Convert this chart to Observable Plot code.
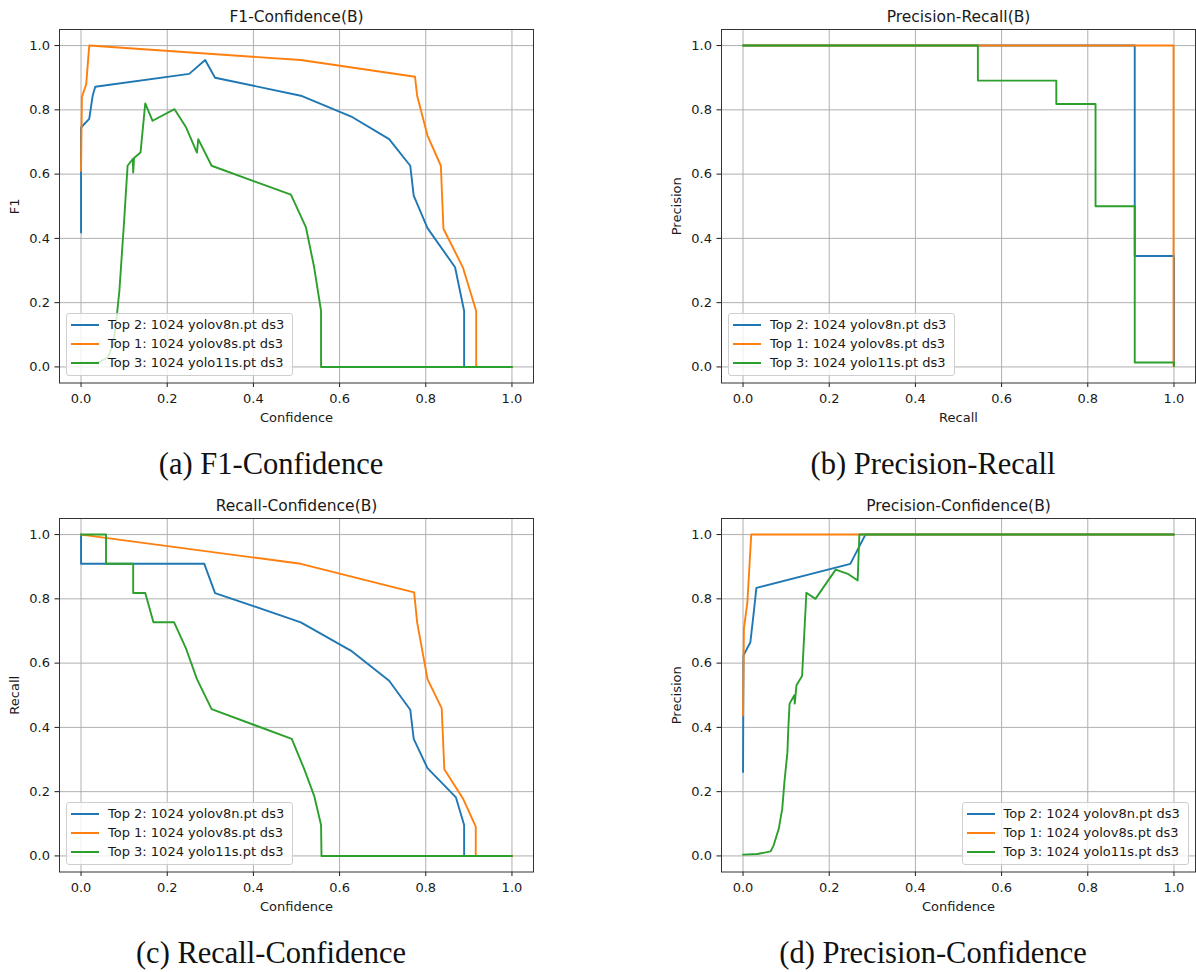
<!DOCTYPE html>
<html><head><meta charset="utf-8">
<script src="https://cdn.jsdelivr.net/npm/d3@7"></script>
<script src="https://cdn.jsdelivr.net/npm/@observablehq/plot@0.6"></script>
<style>
body{margin:0;background:#fff;}
#fig{position:relative;width:1196px;height:972px;overflow:hidden;background:#fff;}
.panel{position:absolute;}
.legend{position:absolute;box-sizing:border-box;border:1px solid #cfcfcf;border-radius:3px;background:rgba(255,255,255,0.8);font:13px 'DejaVu Sans';color:#1a1a1a;}
.legend .row{position:absolute;left:0;height:19px;}
.legend .swatch{position:absolute;left:4px;top:8.5px;width:28px;height:2px;}
.legend .lab{position:absolute;left:41px;top:0;line-height:19px;white-space:nowrap;}
</style>
</head><body><div id="fig"></div>
<script>
// ---- shared labels ----
const xTicks = [0, 0.2, 0.4, 0.6, 0.8, 1.0];
const yTicks = [0, 0.2, 0.4, 0.6, 0.8, 1.0];
const seriesNames = ["Top 2: 1024 yolov8n.pt ds3", "Top 1: 1024 yolov8s.pt ds3", "Top 3: 1024 yolo11s.pt ds3"];
const seriesColors = ["#1f77b4", "#ff7f0e", "#2ca02c"];
const panelTitles = ["F1-Confidence(B)", "Precision-Recall(B)", "Recall-Confidence(B)", "Precision-Confidence(B)"];
const xLabels = ["Confidence", "Recall", "Confidence", "Confidence"];
const yLabels = ["F1", "Precision", "Recall", "Precision"];
const captions = ["(a) F1-Confidence", "(b) Precision-Recall", "(c) Recall-Confidence", "(d) Precision-Confidence"];

// ---- (a) F1 vs confidence: [confidence, F1] ----
const f1V8n = [[0,0.418],[0,0.745],[0.019,0.772],[0.027,0.844],[0.033,0.872],[0.251,0.912],[0.288,0.955],[0.311,0.9],[0.51,0.844],[0.63,0.777],[0.715,0.709],[0.764,0.626],[0.772,0.533],[0.804,0.432],[0.868,0.31],[0.889,0.174],[0.889,0],[1,0]];
const f1V8s = [[0,0.61],[0.002,0.84],[0.012,0.88],[0.019,1.0],[0.51,0.955],[0.775,0.903],[0.78,0.844],[0.804,0.72],[0.835,0.626],[0.841,0.43],[0.886,0.31],[0.917,0.174],[0.917,0],[1,0]];
const f1Y11s = [[0,0.013],[0.039,0.013],[0.062,0.029],[0.074,0.07],[0.081,0.133],[0.089,0.237],[0.1,0.455],[0.108,0.626],[0.12,0.647],[0.121,0.605],[0.123,0.65],[0.138,0.667],[0.149,0.82],[0.166,0.766],[0.217,0.802],[0.244,0.745],[0.269,0.667],[0.272,0.709],[0.303,0.626],[0.487,0.536],[0.522,0.434],[0.541,0.31],[0.557,0.174],[0.557,0],[1,0]];

// ---- (b) precision vs recall: [recall, precision] ----
const prV8n = [[0,1],[0.909,1],[0.909,0.345],[1.0,0.345],[1.0,0.004]];
const prV8s = [[0,1],[0.999,1],[0.999,0.004]];
const prY11s = [[0,1],[0.545,1],[0.545,0.891],[0.727,0.891],[0.727,0.818],[0.818,0.818],[0.818,0.5],[0.909,0.5],[0.909,0.014],[1.0,0.014],[1.0,0.002]];

// ---- (c) recall vs confidence: [confidence, recall] ----
const rcV8n = [[0,1],[0,0.909],[0.286,0.909],[0.311,0.818],[0.51,0.727],[0.626,0.639],[0.715,0.545],[0.764,0.455],[0.772,0.364],[0.804,0.273],[0.87,0.182],[0.889,0.096],[0.889,0],[1,0]];
const rcV8s = [[0,1],[0.51,0.909],[0.773,0.82],[0.78,0.727],[0.804,0.55],[0.837,0.459],[0.843,0.27],[0.887,0.177],[0.916,0.091],[0.916,0],[1,0]];
const rcY11s = [[0,1],[0.058,1],[0.058,0.909],[0.121,0.909],[0.121,0.818],[0.149,0.818],[0.168,0.727],[0.216,0.727],[0.244,0.644],[0.269,0.55],[0.303,0.457],[0.489,0.364],[0.518,0.27],[0.541,0.187],[0.557,0.096],[0.558,0],[1,0]];

// ---- (d) precision vs confidence: [confidence, precision] ----
const pcV8n = [[0,0.261],[0.001,0.624],[0.017,0.665],[0.024,0.748],[0.031,0.834],[0.249,0.909],[0.284,1],[1,1]];
const pcV8s = [[0,0.437],[0.002,0.707],[0.01,0.788],[0.019,1],[1,1]];
const pcY11s = [[0,0.004],[0.033,0.006],[0.064,0.014],[0.071,0.033],[0.083,0.085],[0.091,0.147],[0.096,0.23],[0.103,0.323],[0.105,0.396],[0.108,0.474],[0.119,0.5],[0.12,0.474],[0.124,0.531],[0.137,0.56],[0.147,0.819],[0.168,0.8],[0.215,0.891],[0.243,0.878],[0.266,0.857],[0.27,1],[1,1]];

const panels = [
  {series: [f1V8n, f1V8s, f1Y11s], col: 0, row: 0, legend: "left"},
  {series: [prV8n, prV8s, prY11s], col: 1, row: 0, legend: "left"},
  {series: [rcV8n, rcV8s, rcY11s], col: 0, row: 1, legend: "left"},
  {series: [pcV8n, pcV8s, pcY11s], col: 1, row: 1, legend: "right"}
];

const fig = document.getElementById("fig");
const W = 598, H = 440, MT = 29, MB = 57.5;
const fmt = d3.format(".1f");

panels.forEach((p, i) => {
  const mL = p.col === 0 ? 59 : 123;
  const mR = p.col === 0 ? 65 : 1;
  const chart = Plot.plot({
    width: W, height: H,
    marginLeft: mL, marginRight: mR, marginTop: MT, marginBottom: MB,
    style: {fontFamily: "'DejaVu Sans'", fontSize: "13px", color: "#1a1a1a", background: "transparent", overflow: "visible"},
    x: {domain: [-0.05, 1.05], ticks: xTicks, tickFormat: fmt, tickSize: 4.5, tickPadding: 6, label: null},
    y: {domain: [-0.05, 1.05], ticks: yTicks, tickFormat: fmt, tickSize: 4.5, tickPadding: 5, label: null},
    marks: [
      Plot.ruleX(xTicks, {stroke: "#b0b0b0", strokeWidth: 1}),
      Plot.ruleY(yTicks, {stroke: "#b0b0b0", strokeWidth: 1}),
      ...p.series.map((pts, k) => Plot.line(pts, {x: d => d[0], y: d => d[1], stroke: seriesColors[k], strokeWidth: 1.9})),
      Plot.frame({stroke: "#333"}),
      Plot.text([panelTitles[i]], {text: d => d, frameAnchor: "top", lineAnchor: "middle", textAnchor: "middle", dy: -12.3, fontSize: 15.5, fill: "#1a1a1a"}),
      Plot.text([xLabels[i]], {text: d => d, frameAnchor: "bottom", lineAnchor: "middle", textAnchor: "middle", dy: 35, fontSize: 13, fill: "#1a1a1a"}),
      Plot.text([yLabels[i]], {text: d => d, frameAnchor: "left", lineAnchor: "middle", textAnchor: "middle", dx: -45, rotate: -90, fontSize: 13, fill: "#1a1a1a"})
    ]
  });
  const wrap = document.createElement("div");
  wrap.className = "panel";
  wrap.style.left = (p.col * W) + "px";
  wrap.style.top = (p.row * 489) + "px";
  wrap.appendChild(chart);
  fig.appendChild(wrap);

  // legend (matplotlib-style box)
  const frameL = p.col * W + mL, frameR = p.col * W + (W - mR);
  const frameB = p.row * 489 + (H - MB);
  const lg = document.createElement("div");
  lg.className = "legend";
  const lw = 227, lh = 63;
  lg.style.width = lw + "px"; lg.style.height = lh + "px";
  lg.style.top = (frameB - 6.5 - lh) + "px";
  lg.style.left = (p.legend === "left" ? frameL + 7 : frameR - 6.5 - lw) + "px";
  seriesNames.forEach((name, k) => {
    const r = document.createElement("div");
    r.className = "row";
    r.style.top = (1 + k * 19.2) + "px";
    r.innerHTML = `<div class="swatch" style="background:${seriesColors[k]}"></div><div class="lab">${name}</div>`;
    lg.appendChild(r);
  });
  fig.appendChild(lg);
});

// captions
const cap = d3.select(fig).append("svg")
  .attr("width", 1196).attr("height", 972)
  .style("position", "absolute").style("left", 0).style("top", 0).style("pointer-events", "none");
cap.selectAll("text").data(captions).join("text")
  .attr("x", (d, i) => i % 2 === 0 ? 271 : 933)
  .attr("y", (d, i) => i < 2 ? 474 : 963)
  .attr("text-anchor", "middle")
  .attr("font-family", "'Liberation Serif'")
  .attr("font-size", 30.5)
  .attr("fill", "#111")
  .text(d => d);
</script>
</body></html>
